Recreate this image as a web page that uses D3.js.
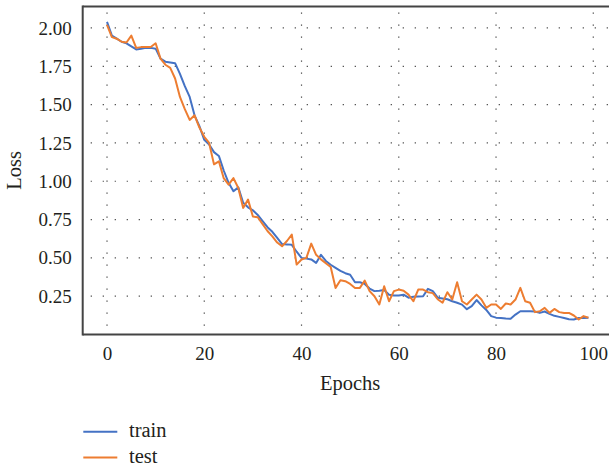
<!DOCTYPE html>
<html>
<head>
<meta charset="utf-8">
<script src="https://cdn.jsdelivr.net/npm/d3@7"></script>
<style>
html,body{margin:0;padding:0;background:#fff;}
svg{display:block;}
text{font-family:"Liberation Serif","DejaVu Serif",serif;fill:#231f20;}
</style>
</head>
<body>
<svg id="chart" width="609" height="470"></svg>
<script>
const epochs = d3.range(0, 100);
const trainLoss = [2.04,1.95,1.93,1.91,1.90,1.88,1.86,1.865,1.87,1.87,
1.865,1.80,1.78,1.775,1.77,1.70,1.62,1.55,1.43,1.36,
1.27,1.24,1.19,1.165,1.07,0.99,0.935,0.96,0.86,0.83,
0.81,0.78,0.74,0.70,0.67,0.63,0.59,0.588,0.585,0.54,
0.50,0.495,0.49,0.467,0.52,0.48,0.455,0.435,0.415,0.40,
0.39,0.341,0.341,0.33,0.30,0.283,0.286,0.29,0.26,0.255,
0.255,0.26,0.24,0.246,0.248,0.25,0.298,0.283,0.24,0.235,
0.23,0.217,0.207,0.195,0.165,0.185,0.225,0.19,0.16,0.12,
0.11,0.108,0.104,0.102,0.13,0.152,0.152,0.152,0.15,0.141,
0.15,0.135,0.122,0.115,0.108,0.10,0.098,0.108,0.108,0.109];
const testLoss = [2.02,1.94,1.93,1.91,1.905,1.95,1.87,1.875,1.876,1.876,
1.90,1.80,1.76,1.74,1.67,1.55,1.47,1.40,1.43,1.35,
1.29,1.25,1.11,1.13,1.02,0.978,1.02,0.956,0.826,0.88,
0.77,0.765,0.72,0.675,0.64,0.60,0.576,0.61,0.652,0.456,
0.489,0.50,0.593,0.52,0.49,0.465,0.44,0.304,0.354,0.348,
0.33,0.304,0.304,0.352,0.283,0.25,0.196,0.315,0.217,0.283,
0.293,0.285,0.26,0.217,0.293,0.293,0.276,0.27,0.23,0.207,
0.276,0.228,0.341,0.217,0.196,0.228,0.26,0.228,0.174,0.196,
0.196,0.167,0.202,0.196,0.228,0.304,0.217,0.207,0.146,0.152,
0.174,0.141,0.167,0.146,0.141,0.141,0.124,0.098,0.12,0.109];
const xTicks = [0,20,40,60,80,100];
const yTicks = [0.25,0.50,0.75,1.00,1.25,1.50,1.75,2.00];
const seriesNames = ["train","test"];
const seriesColors = ["#4472c4","#ed7d31"];

const svg = d3.select("#chart");
const pL = 82.7, pR = 617.6, pT = 6.5, pB = 334.5;
const x = d3.scaleLinear().domain([-5,105]).range([pL,pR]);
const y = d3.scaleLinear().domain([0,2.14]).range([pB,pT]);

// grid
const grid = svg.append("g");
grid.selectAll("line.h").data(yTicks).join("line")
  .attr("x1", pL+2).attr("x2", 609)
  .attr("y1", d=>y(d)).attr("y2", d=>y(d))
  .attr("stroke","#444").attr("stroke-width",1.2)
  .attr("stroke-dasharray","1.2,10.8").attr("stroke-dashoffset",-6);
grid.selectAll("line.v").data(xTicks).join("line")
  .attr("x1", d=>x(d)).attr("x2", d=>x(d))
  .attr("y1", pT+2).attr("y2", pB)
  .attr("stroke","#444").attr("stroke-width",1.2)
  .attr("stroke-dasharray","1.2,10.8").attr("stroke-dashoffset",-4);

// lines
const line = d3.line().x((d,i)=>x(epochs[i])).y(d=>y(d));
[trainLoss, testLoss].forEach((s,k)=>{
  svg.append("path").datum(s).attr("d", line)
    .attr("fill","none").attr("stroke", seriesColors[k])
    .attr("stroke-width",2).attr("stroke-linejoin","round");
});

// axes frame
const xAxis = d3.axisBottom(x).tickValues(xTicks).tickSize(0).tickPadding(12);
const yAxis = d3.axisLeft(y).tickValues(yTicks).tickFormat(d3.format(".2f")).tickSize(0).tickPadding(11);
const gx = svg.append("g").attr("transform",`translate(0,${pB})`).call(xAxis);
const gy = svg.append("g").attr("transform",`translate(${pL},0)`).call(yAxis);
[gx,gy].forEach(g=>{
  g.select(".domain").remove();
  g.selectAll("text").attr("font-size",19).attr("fill","#231f20");
});
gx.selectAll("text").attr("dy","0.71em");
svg.append("line").attr("x1",pL).attr("x2",609).attr("y1",pT).attr("y2",pT).attr("stroke","#444").attr("stroke-width",2);
svg.append("line").attr("x1",pL).attr("x2",609).attr("y1",pB).attr("y2",pB).attr("stroke","#444").attr("stroke-width",2);
svg.append("line").attr("x1",pL).attr("x2",pL).attr("y1",pT-1).attr("y2",pB+1).attr("stroke","#444").attr("stroke-width",2);

// axis titles
svg.append("text").attr("x",(pL+pR)/2).attr("y",390).attr("text-anchor","middle")
  .attr("font-size",20.5).text("Epochs");
svg.append("text").attr("transform",`translate(21,${(pT+pB)/2}) rotate(-90)`)
  .attr("text-anchor","middle").attr("font-size",20.5).text("Loss");

// legend
const lg = svg.append("g");
seriesNames.forEach((n,i)=>{
  const yy = 431.7 + i*25.8;
  lg.append("line").attr("x1",83.3).attr("x2",117.3).attr("y1",yy).attr("y2",yy)
    .attr("stroke",seriesColors[i]).attr("stroke-width",2);
  lg.append("text").attr("x",129).attr("y",yy+5.5).attr("font-size",20.5).text(n);
});
</script>
</body>
</html>
